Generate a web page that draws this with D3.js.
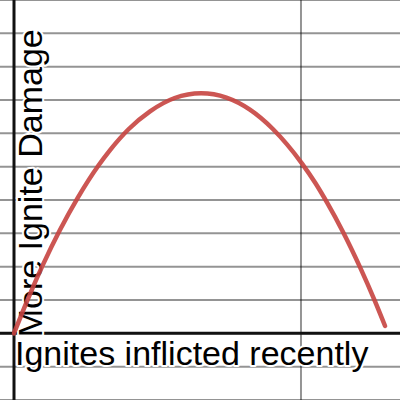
<!DOCTYPE html>
<html>
<head lang="en">
    <meta charset="utf-8">
    <title>Ignite damage curve</title>
    <style type="text/css">
        body { margin: 0; background: #fff; }
        svg { display: block; }
        .label {
            font-family: "Liberation Sans", Arial, sans-serif;
            font-size: 34px;
            fill: #000;
            stroke: #fff;
            stroke-width: 4px;
            stroke-linejoin: round;
            paint-order: stroke;
        }
    </style>
</head>
<body>
<div id="chart"></div>

<script src="https://cdn.jsdelivr.net/npm/d3@7"></script>
<script type="text/javascript">
    // points (x = ignites, y = damage)
    var ignites = [0, 0.045, 0.101, 0.160, 0.223, 0.293, 0.334, 0.40, 0.474, 0.56, 0.652, 0.74, 0.822, 0.902, 1.003, 1.05, 1.091, 1.146, 1.206, 1.258, 1.293];
    var damage  = [0, 0.96, 2.06, 3.10, 4.08, 5.02, 5.49, 6.13, 6.66, 7.06, 7.2, 7.07, 6.71, 6.13, 5.10, 4.51, 3.92, 3.05, 1.98, 0.96, 0.22];

    // gridlines
    var xGrid = [0, 1];
    var yGrid = [-2, -1, 0, 1, 2, 3, 4, 5, 6, 7, 8, 9, 10];

    var xLabel = "Ignites inflicted recently";
    var yLabel = "More Ignite Damage";

    var width = 400, height = 400;

    var x = d3.scaleLinear().domain([-0.0488, 1.345]).range([0, width]);
    var y = d3.scaleLinear().domain([-2, 10]).range([height, 0]);

    var svg = d3.select("#chart").append("svg")
        .attr("width", width)
        .attr("height", height);

    //grey grid
    svg.selectAll(".hgrid")
        .data(yGrid)
        .enter().append("line")
        .attr("class", "hgrid")
        .attr("x1", 0).attr("x2", width)
        .attr("y1", function (d) { return y(d); })
        .attr("y2", function (d) { return y(d); })
        .attr("stroke", "#000")
        .attr("stroke-opacity", 0.42)
        .attr("stroke-width", 2);

    svg.selectAll(".vgrid")
        .data(xGrid)
        .enter().append("line")
        .attr("class", "vgrid")
        .attr("y1", 0).attr("y2", height)
        .attr("x1", function (d) { return x(d); })
        .attr("x2", function (d) { return x(d); })
        .attr("stroke", "#000")
        .attr("stroke-opacity", 0.42)
        .attr("stroke-width", 2);

    //axes
    svg.append("line")
        .attr("x1", 0).attr("x2", width)
        .attr("y1", y(0)).attr("y2", y(0))
        .attr("stroke", "#111").attr("stroke-width", 3);
    svg.append("line")
        .attr("x1", x(0)).attr("x2", x(0))
        .attr("y1", 0).attr("y2", height)
        .attr("stroke", "#111").attr("stroke-width", 3);

    //labels with white halo
    svg.append("text")
        .attr("class", "label")
        .attr("x", x(0) + 1)
        .attr("y", y(0) + 32)
        .text(xLabel);

    svg.append("text")
        .attr("class", "label")
        .attr("transform", "translate(" + (x(0) + 28) + "," + (y(0) + 4) + ") rotate(-90)")
        .text(yLabel);

    //curve
    var line = d3.line()
        .x(function (d, i) { return x(ignites[i]); })
        .y(function (d) { return y(d); })
        .curve(d3.curveMonotoneX);

    svg.append("path")
        .datum(damage)
        .attr("d", line)
        .attr("fill", "none")
        .attr("stroke", "#c74440")
        .attr("stroke-opacity", 0.9)
        .attr("stroke-width", 4.5)
        .attr("stroke-linecap", "round");
</script>
</body>
</html>
